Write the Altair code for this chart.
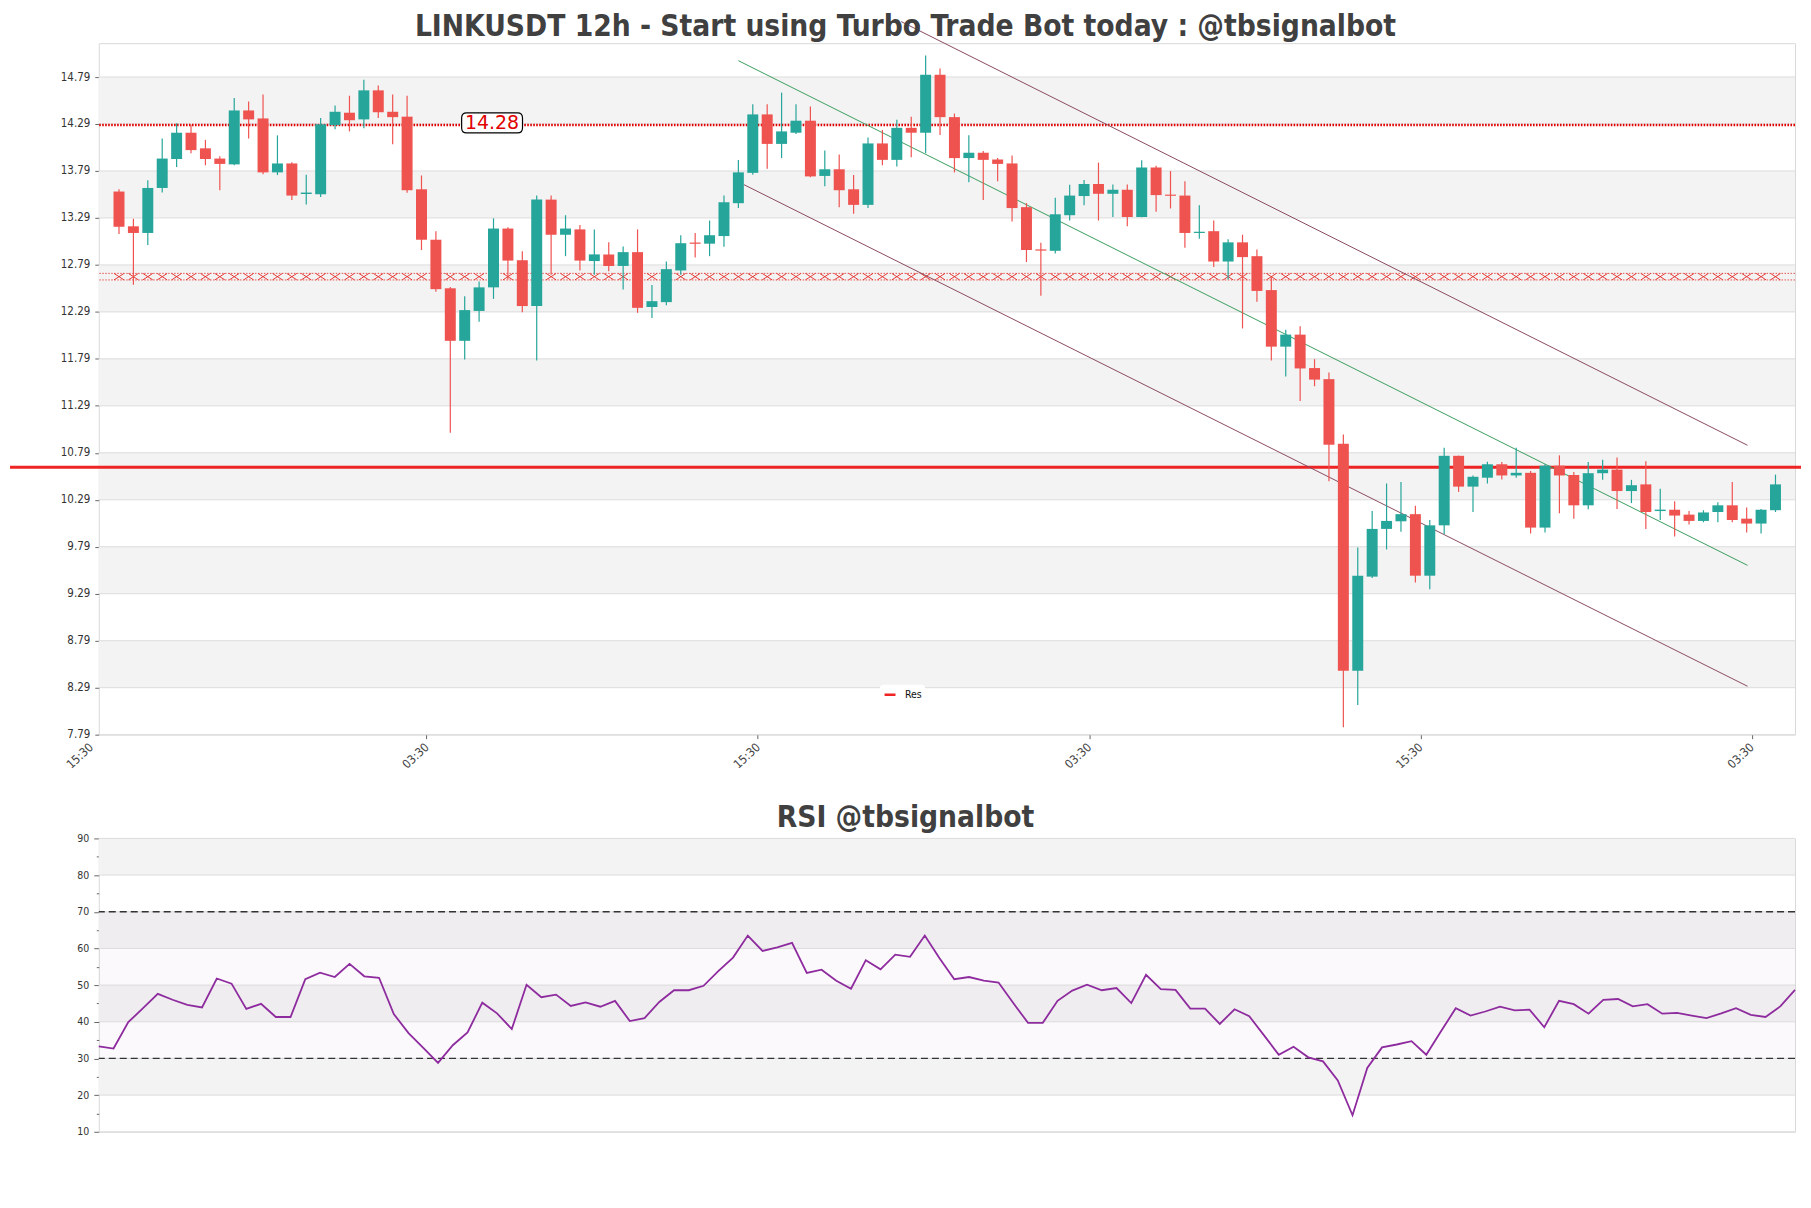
import altair as alt
import pandas as pd

# ---------------- data ----------------
opens = [13.571, 13.201, 13.130, 13.609, 13.917, 14.197, 14.031, 13.922, 13.860, 14.434,
         14.349, 13.775, 13.870, 13.545, 13.542, 14.278, 14.410, 14.339, 14.648, 14.420,
         14.368, 13.595, 13.058, 12.541, 11.982, 12.300, 12.551, 13.177, 12.840, 12.352,
         13.485, 13.111, 13.168, 12.831, 12.902, 12.779, 12.926, 12.342, 12.394, 12.731,
         13.028, 13.016, 13.097, 13.447, 13.770, 14.392, 14.078, 14.197, 14.325, 13.737,
         13.808, 13.595, 13.429, 14.083, 13.908, 14.249, 14.197, 14.814, 14.363, 13.927,
         13.984, 13.912, 13.870, 13.405, 12.955, 12.940, 13.319, 13.523, 13.651, 13.547,
         13.590, 13.300, 13.827, 13.538, 13.528, 13.130, 13.149, 12.826, 13.030, 12.883,
         12.522, 11.920, 12.048, 11.692, 11.574, 10.886, 8.471, 9.472, 9.980, 10.061,
         10.137, 9.482, 10.018, 10.758, 10.430, 10.525, 10.668, 10.549, 10.577, 9.994,
         10.653, 10.554, 10.231, 10.573, 10.611, 10.383, 10.454, 10.170, 10.184, 10.132,
         10.065, 10.160, 10.231, 10.089, 10.037, 10.179]
highs = [13.595, 13.281, 13.690, 14.135, 14.297, 14.282, 14.121, 13.946, 14.567, 14.529,
         14.605, 14.169, 13.884, 13.751, 14.354, 14.486, 14.591, 14.762, 14.700, 14.605,
         14.591, 13.742, 13.149, 12.556, 12.456, 12.613, 13.286, 13.191, 12.935, 13.528,
         13.528, 13.319, 13.215, 13.168, 13.030, 12.987, 13.168, 12.575, 12.826, 13.106,
         13.130, 13.262, 13.528, 13.908, 14.501, 14.501, 14.624, 14.501, 14.477, 14.007,
         13.965, 13.746, 14.145, 14.226, 14.335, 14.368, 15.018, 14.880, 14.401, 14.169,
         14.003, 13.927, 13.955, 13.448, 13.025, 13.504, 13.642, 13.694, 13.879, 13.647,
         13.647, 13.903, 13.846, 13.789, 13.680, 13.424, 13.262, 13.063, 13.111, 12.954,
         12.660, 12.100, 12.138, 11.787, 11.645, 10.985, 9.781, 10.170, 10.464, 10.478,
         10.226, 10.075, 10.843, 10.760, 10.549, 10.696, 10.691, 10.843, 10.597, 10.668,
         10.763, 10.587, 10.691, 10.715, 10.739, 10.502, 10.701, 10.407, 10.274, 10.170,
         10.179, 10.264, 10.478, 10.207, 10.193, 10.558]
lows = [13.120, 12.579, 13.002, 13.561, 13.832, 13.979, 13.851, 13.585, 13.851, 14.135,
        13.756, 13.746, 13.481, 13.433, 13.514, 14.235, 14.211, 14.244, 14.354, 14.074,
        13.557, 12.949, 12.503, 11.004, 11.782, 12.186, 12.428, 12.636, 12.285, 11.773,
        12.684, 12.883, 12.731, 12.684, 12.722, 12.527, 12.280, 12.224, 12.361, 12.684,
        12.869, 12.883, 12.983, 13.395, 13.751, 13.813, 13.927, 14.183, 13.723, 13.628,
        13.405, 13.334, 13.395, 13.851, 13.837, 13.936, 13.979, 14.173, 13.775, 13.670,
        13.481, 13.680, 13.253, 12.821, 12.461, 12.911, 13.262, 13.424, 13.262, 13.300,
        13.201, 13.298, 13.357, 13.391, 12.973, 13.068, 12.769, 12.636, 12.114, 12.399,
        11.773, 11.602, 11.341, 11.498, 10.487, 7.869, 8.106, 9.458, 9.761, 9.951,
        9.410, 9.339, 9.923, 10.374, 10.160, 10.464, 10.506, 10.525, 9.932, 9.942,
        10.146, 10.089, 10.188, 10.502, 10.193, 10.255, 9.980, 10.075, 9.899, 10.027,
        10.051, 10.051, 10.051, 9.942, 9.932, 10.160]
closes = [13.196, 13.130, 13.609, 13.922, 14.197, 14.012, 13.917, 13.865, 14.434, 14.339,
          13.775, 13.870, 13.528, 13.560, 14.287, 14.420, 14.330, 14.648, 14.415, 14.363,
          13.585, 13.058, 12.532, 11.982, 12.309, 12.551, 13.177, 12.836, 12.352, 13.485,
          13.111, 13.177, 12.836, 12.902, 12.779, 12.926, 12.333, 12.404, 12.745, 13.021,
          13.015, 13.106, 13.457, 13.775, 14.392, 14.078, 14.211, 14.325, 13.732, 13.808,
          13.585, 13.429, 14.083, 13.908, 14.249, 14.197, 14.814, 14.363, 13.927, 13.984,
          13.908, 13.865, 13.395, 12.949, 12.942, 13.329, 13.528, 13.651, 13.547, 13.590,
          13.300, 13.827, 13.533, 13.526, 13.130, 13.143, 12.826, 13.030, 12.873, 12.513,
          11.920, 12.048, 11.688, 11.569, 10.876, 8.471, 9.482, 9.980, 10.065, 10.137,
          9.482, 10.018, 10.758, 10.430, 10.535, 10.668, 10.549, 10.577, 9.994, 10.653,
          10.549, 10.231, 10.573, 10.611, 10.383, 10.445, 10.160, 10.185, 10.122, 10.065,
          10.155, 10.231, 10.075, 10.037, 10.184, 10.454]
rsi_vals = [33.3, 32.7, 39.9, 43.7, 47.6, 46.0, 44.6, 43.9, 51.8, 50.4,
            43.5, 44.9, 41.3, 41.3, 51.6, 53.4, 52.2, 55.8, 52.4, 52.0,
            42.1, 36.9, 32.9, 28.8, 33.6, 37.1, 45.2, 42.3, 38.0, 50.1,
            46.7, 47.4, 44.3, 45.3, 44.1, 45.7, 40.2, 41.0, 45.4, 48.6,
            48.6, 49.8, 53.8, 57.5, 63.5, 59.3, 60.3, 61.5, 53.3, 54.2,
            51.2, 49.0, 56.8, 54.3, 58.3, 57.7, 63.5, 57.3, 51.6, 52.2,
            51.2, 50.7, 45.1, 39.7, 39.7, 45.7, 48.5, 50.1, 48.6, 49.2,
            45.1, 52.8, 48.9, 48.7, 43.6, 43.6, 39.4, 43.4, 41.5, 36.3,
            31.0, 33.2, 30.3, 29.2, 24.0, 14.5, 27.4, 33.0, 33.8, 34.7,
            31.0, 37.4, 43.7, 41.7, 42.8, 44.1, 43.1, 43.3, 38.5, 45.7,
            44.8, 42.2, 46.0, 46.2, 44.2, 44.8, 42.2, 42.4, 41.7, 41.0,
            42.3, 43.7, 41.9, 41.3, 44.2, 48.7]

price_ticks = [7.79, 8.29, 8.79, 9.29, 9.79, 10.29, 10.79, 11.29, 11.79, 12.29,
               12.79, 13.29, 13.79, 14.29, 14.79]
rsi_ticks = [10, 20, 30, 40, 50, 60, 70, 80, 90]
x_tick_pos = [-1.95, 21.35, 44.35, 67.35, 90.35, 113.35]
x_tick_labels = ["15:30", "03:30", "15:30", "03:30", "15:30", "03:30"]

res_level = 10.635          # "Res" solid line
hi_level = 14.28            # dotted level with label
zone_top, zone_bottom = 12.70, 12.63   # hatched zone
rsi_upper, rsi_lower = 70, 30

green_line_x = [43.0, 113.06]
green_line_y = [14.964, 9.592]
upper_line_x = [54.3, 113.06]
upper_line_y = [15.38, 10.87]
lower_line_x = [43.39, 113.06]
lower_line_y = [13.644, 8.305]

title_main = "LINKUSDT 12h - Start using Turbo Trade Bot today : @tbsignalbot"
title_rsi = "RSI @tbsignalbot"

# ---------------- styling ----------------
W, H1, H2 = 1700, 693, 294
FONT = "DejaVu Sans Condensed, DejaVu Sans"
UP, DOWN = "#26a69a", "#ef5350"
BAND = "#f3f3f3"
GRID = "#dcdcdc"
X_MIN, X_MAX = -1.056, 116.01
Y_MIN, Y_MAX = 7.79, 15.15

n = len(opens)
df = pd.DataFrame({"i": list(range(n)), "open": opens, "high": highs,
                   "low": lows, "close": closes})
df["body_hi"] = df[["open", "close"]].max(axis=1)
df["body_lo"] = df[["open", "close"]].min(axis=1)

xscale = alt.Scale(domain=[X_MIN, X_MAX], nice=False, zero=False)
yscale = alt.Scale(domain=[Y_MIN, Y_MAX], nice=False, zero=False)
xax = alt.Axis(values=[p for p in x_tick_pos if X_MIN <= p <= X_MAX], labels=False,
               ticks=True, tickSize=4, tickColor="#666", domain=False, grid=False, title=None)
yax = alt.Axis(values=price_ticks, format=".2f", grid=False, domain=False, tickSize=4,
               tickColor="#666", labelFont=FONT, labelFontSize=11.5, labelColor="#333",
               labelPadding=5, title=None)


def X(f):
    return alt.X(f, type="quantitative", scale=xscale, axis=xax)


def Y(f):
    return alt.Y(f, type="quantitative", scale=yscale, axis=yax)


candle_color = alt.condition("datum.close >= datum.open", alt.value(UP), alt.value(DOWN))

bands_df = pd.DataFrame({"lo": price_ticks[1::2], "hi": [v + 0.5 for v in price_ticks[1::2]]})
bands = alt.Chart(bands_df).mark_rect(color=BAND).encode(
    x=alt.value(0), x2=alt.value(W), y=Y("lo"), y2="hi")
grid = alt.Chart(pd.DataFrame({"v": price_ticks})).mark_rule(color=GRID, strokeWidth=1).encode(y=Y("v"))

zone_edges = alt.Chart(pd.DataFrame({"v": [zone_top, zone_bottom]})).mark_rule(
    color="#e53935", strokeWidth=1, strokeDash=[1.5, 1.5], opacity=0.85).encode(y=Y("v"))
XPATH = "M-1,-0.65L1,0.65M-1,0.65L1,-0.65"
zone_x = alt.Chart(df).mark_point(
    shape=XPATH, filled=False, size=100, strokeWidth=1, color="#e53935", opacity=1).encode(
    x=X("i:Q"), y=alt.datum((zone_top + zone_bottom) / 2))

dotted = alt.Chart(pd.DataFrame({"v": [hi_level]})).mark_rule(
    color="#e00000", strokeWidth=2.4, strokeDash=[1.6, 1.4]).encode(y=Y("v"))

res = alt.Chart(pd.DataFrame({"v": [res_level], "name": ["Res"]})).mark_rule(
    strokeWidth=3, opacity=0.92).encode(
    y=Y("v"), x=alt.value(-89), x2=alt.value(W + 6),
    color=alt.Color("name:N", scale=alt.Scale(domain=["Res"], range=["#ee1111"]),
                    legend=alt.Legend(orient="none", legendX=783, legendY=643, title=None,
                                      symbolType="stroke", symbolStrokeWidth=2.5,
                                      symbolSize=120, labelFont=FONT, labelFontSize=10.5,
                                      labelColor="#111", labelOffset=8, fillColor="white",
                                      padding=3, cornerRadius=3)))


def trend(xs, ys, color):
    return alt.Chart(pd.DataFrame({"x": xs, "y": ys})).mark_line(
        color=color, strokeWidth=1).encode(x=X("x"), y=Y("y"))


green_tl = trend(green_line_x, green_line_y, "#3a9d5d")
upper_tl = trend(upper_line_x, upper_line_y, "#8a4a5e")
lower_tl = trend(lower_line_x, lower_line_y, "#8a4a5e")

wicks = alt.Chart(df).mark_rule(strokeWidth=1.2).encode(
    x=X("i"), y=Y("low"), y2="high", color=candle_color)
bodies = alt.Chart(df).mark_bar(size=11).encode(
    x=X("i"), y=Y("body_hi"), y2="body_lo", color=candle_color)

BOX = ("M-0.836,-0.328L0.836,-0.328Q1,-0.328 1,-0.164L1,0.164Q1,0.328 0.836,0.328"
       "L-0.836,0.328Q-1,0.328 -1,0.164L-1,-0.164Q-1,-0.328 -0.836,-0.328Z")
label_box = alt.Chart(pd.DataFrame({"v": [hi_level]})).mark_point(
    shape=BOX, size=61 * 61, filled=True, fill="white", stroke="black", strokeWidth=1.2,
    opacity=1, yOffset=-2).encode(x=alt.datum(25.9), y=Y("v"))
label_txt = alt.Chart(pd.DataFrame({"v": [hi_level]})).mark_text(
    text=f"{hi_level:.2f}", fontSize=19, font="DejaVu Sans", color="#e00000",
    align="center", baseline="middle", yOffset=-2).encode(x=alt.datum(25.9), y=Y("v"))

xlab = alt.Chart(pd.DataFrame({"pos": x_tick_pos, "lab": x_tick_labels})).mark_text(
    angle=317, align="right", baseline="top", font=FONT, fontSize=12, color="#444",
    xOffset=-3, yOffset=7).encode(x=X("pos"), y=alt.datum(Y_MIN), text="lab:N")

main = alt.layer(bands, grid, zone_edges, zone_x, dotted, res, green_tl, upper_tl,
                 lower_tl, wicks, bodies, label_box, label_txt, xlab).properties(
    width=W, height=H1,
    title=alt.TitleParams(text=title_main, font=FONT, fontSize=29.7, fontWeight="bold",
                          color="#404040", anchor="middle", dx=-41.5, offset=-46,
                          baseline="alphabetic"))

# ---------------- RSI panel ----------------
rdf = pd.DataFrame({"i": list(range(len(rsi_vals))), "rsi": rsi_vals})
rx = alt.Scale(domain=[0, len(rsi_vals) - 1], nice=False, zero=False)
ry = alt.Scale(domain=[rsi_ticks[0], rsi_ticks[-1]], nice=False, zero=False)
rxax = alt.Axis(labels=False, ticks=False, domain=False, grid=False, title=None)
rsi_axis_vals = sorted(rsi_ticks + [v + 5 for v in rsi_ticks[:-1]])
ryax = alt.Axis(values=rsi_axis_vals, labelExpr="datum.value % 10 == 0 ? datum.label : ''",
                grid=False, domain=False,
                tickSize={"condition": {"test": "datum.value % 10 != 0", "value": 2.5}, "value": 5},
                tickColor="#666", labelFont=FONT, labelFontSize=10.5, labelColor="#333",
                labelPadding=5, title=None)


def RY(f):
    return alt.Y(f, type="quantitative", scale=ry, axis=ryax)


rb_df = pd.DataFrame({"lo": rsi_ticks[1::2], "hi": [v + 10 for v in rsi_ticks[1::2]]})
r_bands = alt.Chart(rb_df).mark_rect(color=BAND).encode(
    x=alt.value(0), x2=alt.value(W), y=RY("lo"), y2="hi")
r_hatch = alt.Chart(pd.DataFrame({"a": [rsi_lower], "b": [rsi_upper]})).mark_rect(
    color="#9c7bb8", opacity=0.045).encode(x=alt.value(0), x2=alt.value(W), y=RY("a"), y2="b")
r_grid = alt.Chart(pd.DataFrame({"v": rsi_ticks})).mark_rule(color=GRID, strokeWidth=1).encode(y=RY("v"))
r_dash = alt.Chart(pd.DataFrame({"v": [rsi_upper, rsi_lower]})).mark_rule(
    color="#333", strokeWidth=1.3, strokeDash=[7, 4]).encode(y=RY("v"))
r_line = alt.Chart(rdf).mark_line(color="#8e2b9e", strokeWidth=1.8).encode(
    x=alt.X("i:Q", scale=rx, axis=rxax), y=RY("rsi"))

rsi_chart = alt.layer(r_bands, r_hatch, r_grid, r_dash, r_line).properties(
    width=W, height=H2,
    title=alt.TitleParams(text=title_rsi, font=FONT, fontSize=29.7, fontWeight="bold",
                          color="#404040", anchor="middle", dx=-41.5, offset=-23,
                          baseline="alphabetic"))

chart = alt.vconcat(main, rsi_chart, spacing=104, bounds="flush").resolve_scale(
    x="independent", y="independent", color="independent").configure_view(
    stroke="#d9d9d9", strokeWidth=1).properties(
    padding={"left": 0, "top": 2, "right": 0, "bottom": 10}, background="white")

chart.save("out.html", embed_options={"renderer": "svg", "actions": False})
